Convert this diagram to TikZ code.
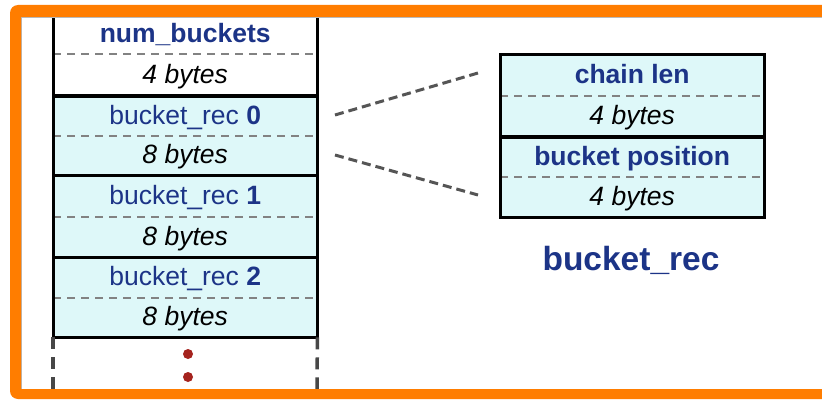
\documentclass[tikz,border=0pt]{standalone}
\usepackage{fontspec}
\setmainfont{Liberation Sans}
\definecolor{frameorange}{RGB}{255,125,0}
\definecolor{cellcyan}{RGB}{222,248,249}
\definecolor{labelblue}{RGB}{28,52,135}
\definecolor{dotred}{RGB}{165,35,30}
\definecolor{conngrey}{RGB}{85,85,85}
\definecolor{divgrey}{RGB}{130,130,130}
\tikzset{
  cell/.style={rectangle, inner sep=0pt, minimum width=264pt, anchor=north west,
    text height=16pt, text depth=0pt},
  namecell/.style={cell, text=labelblue, font=\fontsize{26.5}{30}\selectfont},
  sizecell/.style={cell, text=black, font=\fontsize{26.5}{30}\selectfont\itshape},
  recbox/.style={draw=black, line width=3pt},
  divider/.style={draw=divgrey, line width=2pt, dash pattern=on 8pt off 6pt},
  conn/.style={draw=conngrey, line width=3pt, dash pattern=on 9pt off 5pt},
  contline/.style={draw=black!72, line width=3.5pt, dash pattern=on 12pt off 8pt},
  reddot/.style={circle, fill=dotred, inner sep=0pt, minimum size=10pt},
  title/.style={text=labelblue, font=\fontsize{33.5}{38}\selectfont\bfseries, anchor=base, inner sep=0pt}
}
\begin{document}
\begin{tikzpicture}[x=1pt,y=-1pt]
\useasboundingbox (0,0) rectangle (822,401);
\clip (0,0) rectangle (822,401);
\fill[white] (0,0) rectangle (822,401);

% left column cells
\node[namecell, fill=white, minimum height=39pt] (nb) at (53,15) {\bfseries num\_buckets};
\node[sizecell, fill=white, minimum height=42pt] (nbs) at (53,54) {4 bytes};
\node[namecell, fill=cellcyan, minimum height=40pt] (r0) at (53,96) {bucket\_rec \textbf{0}};
\node[sizecell, fill=cellcyan, minimum height=39pt] (r0s) at (53,136) {8 bytes};
\node[namecell, fill=cellcyan, minimum height=42pt] (r1) at (53,175) {bucket\_rec \textbf{1}};
\node[sizecell, fill=cellcyan, minimum height=40pt] (r1s) at (53,217) {8 bytes};
\node[namecell, fill=cellcyan, minimum height=41pt] (r2) at (53,257) {bucket\_rec \textbf{2}};
\node[sizecell, fill=cellcyan, minimum height=39pt] (r2s) at (53,298) {8 bytes};

\foreach \a/\b in {nb/nbs, r0/r0s, r1/r1s, r2/r2s}{
  \draw[divider] (\a.south west) -- (\a.south east);
  \draw[recbox] (\a.north west) rectangle (\b.south east);
}

% continuation
\coordinate (lb) at (53,392);
\coordinate (rb) at (317,392);
\draw[contline] (r2s.south west) -- (lb);
\draw[contline] (r2s.south east) -- (rb);
\node[reddot] (d1) at (188,354) {};
\node[reddot] (d2) at (188,377) {};

% right box
\node[namecell, fill=cellcyan, minimum height=41pt] (cl) at (500,55) {\bfseries chain len};
\node[sizecell, fill=cellcyan, minimum height=41pt] (cls) at (500,96) {4 bytes};
\node[namecell, fill=cellcyan, minimum height=40pt] (bp) at (500,137) {\bfseries bucket position};
\node[sizecell, fill=cellcyan, minimum height=40pt] (bps) at (500,177) {4 bytes};
\foreach \a/\b in {cl/cls, bp/bps}{
  \draw[divider] (\a.south west) -- (\a.south east);
  \draw[recbox] (\a.north west) rectangle (\b.south east);
}
\node[title] (lbl) at (631,270) {bucket\_rec};

% connectors
\coordinate (u1) at (335,115);
\coordinate (u2) at (478,73);
\coordinate (l1) at (335,155);
\coordinate (l2) at (478,195);
\draw[conn] (u1) -- (u2);
\draw[conn] (l1) -- (l2);

% orange frame on top
\fill[white] (0,0) rectangle (822,5);
\fill[white] (0,0) rectangle (10,401);
\draw[gray!55, line width=1.5pt] (21.7,389) -- (21.7,17.7) -- (822,17.7);
\fill[frameorange, even odd rule, rounded corners=8pt] (10,5) rectangle (880,399)
  [sharp corners] (21,17) rectangle (880,389);
\end{tikzpicture}
\end{document}
